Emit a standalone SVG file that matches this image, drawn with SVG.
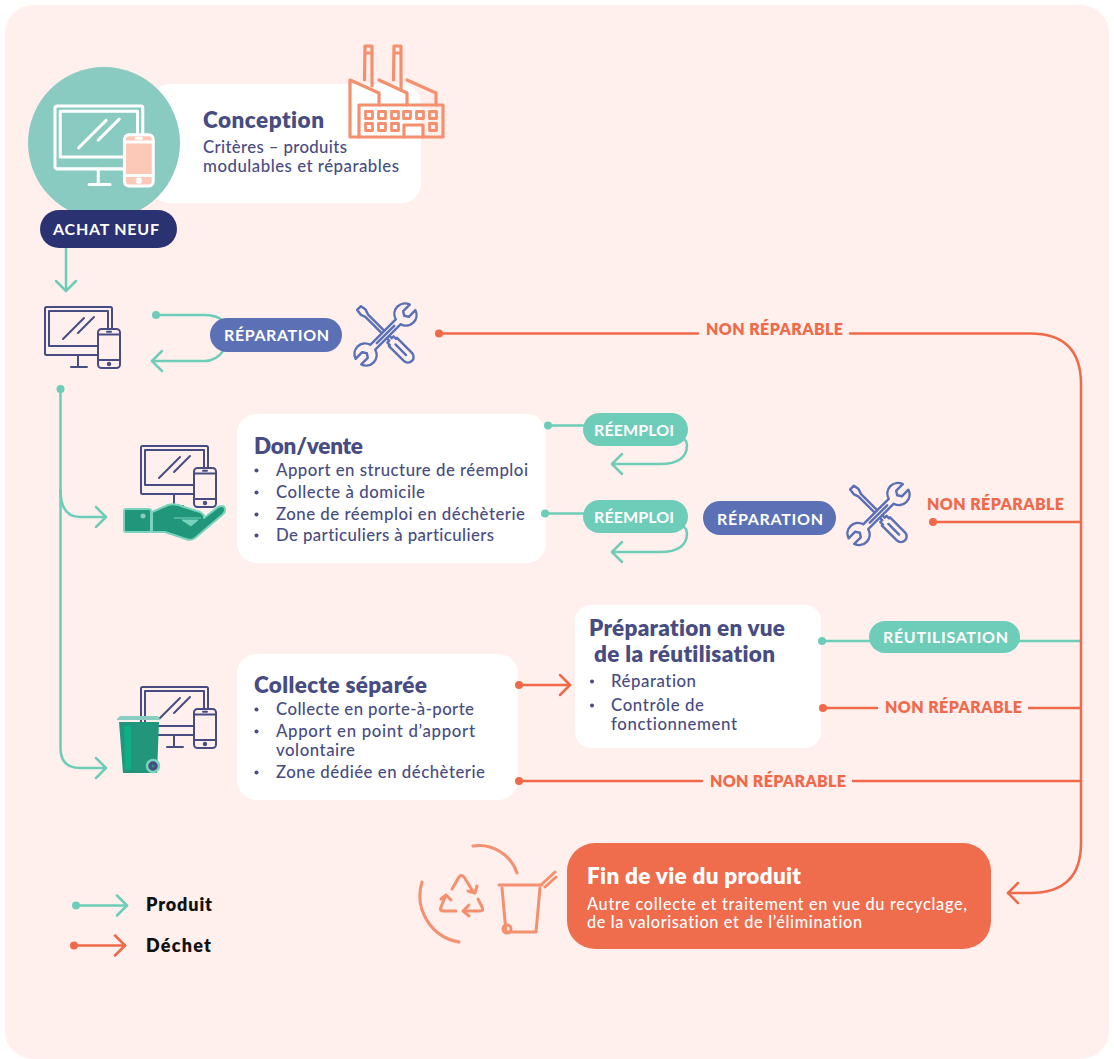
<svg xmlns="http://www.w3.org/2000/svg" width="1114" height="1059" viewBox="0 0 1114 1059">
<style>
text{font-family:"Lato","Liberation Sans",sans-serif;font-variant-ligatures:none}
.t{font-size:22.5px;font-weight:800;fill:#474c82}
.b{font-size:16.8px;font-weight:500;fill:#474c82}
.p{font-size:16px;font-weight:700;fill:#fff}
.n{font-size:16px;font-weight:800;fill:#f06a4a}
.g{fill:none;stroke:#6ecdb8;stroke-width:2.5;stroke-linecap:round;stroke-linejoin:round}
.o{fill:none;stroke:#f06a4a;stroke-width:2.5;stroke-linecap:round;stroke-linejoin:round}
.dg{fill:#6ecdb8}.do{fill:#f06a4a}.bul{fill:#474c82}
.ic{fill:none;stroke:#f5906f;stroke-width:3;stroke-linecap:round;stroke-linejoin:round}
.card{fill:#fff}
</style>
<defs>
<g id="device" stroke-linecap="round" stroke-linejoin="round">
<rect x="0" y="0" width="67" height="48" rx="1.5" fill="none"/>
<rect x="4" y="4" width="59" height="35" fill="none"/>
<path d="M33 48V60M26 60H42M18 32L39 11M33 26L49 10" fill="none"/>
<rect x="53" y="22" width="22" height="39" rx="3.5"/>
<path d="M53 27.500H75M53 53H75M62 24.700H66" fill="none"/>
<circle cx="64" cy="57" r="1.200"/>
</g>
<g id="tools" fill="#fff0ee" stroke="#5b70b5" stroke-width="2.800" stroke-linejoin="round" stroke-linecap="round">
<path transform="rotate(-45)" d="M-3-42.500L-4-36-2-30V8H-5V12H-6.500V36A6.500 6.500 0 0 0 6.500 36V12H5V8H2V-30L4-36 3-42.500ZM0 16V33"/>
<path transform="rotate(45)" d="M-4.500-43.500V-33L0-30 4.500-33V-43.500A12 12 0 0 1 4-20.500V20.500A12 12 0 0 1 4.500 43.500V33L0 30-4.500 33V43.500A12 12 0 0 1-4 20.500V-20.500A12 12 0 0 1-4.500-43.500ZM0-14V14"/>
</g>
<marker id="hg" viewBox="0 0 14 24" refX="12" refY="12" markerWidth="14" markerHeight="24" markerUnits="userSpaceOnUse" orient="auto"><path d="M2 2L12 12 2 22" fill="none" stroke="#6ecdb8" stroke-width="2.500" stroke-linecap="round" stroke-linejoin="round"/></marker>
<marker id="ho" viewBox="0 0 14 24" refX="12" refY="12" markerWidth="14" markerHeight="24" markerUnits="userSpaceOnUse" orient="auto"><path d="M2 2L12 12 2 22" fill="none" stroke="#f06a4a" stroke-width="2.500" stroke-linecap="round" stroke-linejoin="round"/></marker>
</defs>
<rect width="1114" height="1059" fill="#fff"/>
<rect x="5" y="5" width="1104" height="1054" rx="28" fill="#fff0ee"/>

<g id="conception">
<rect class="card" x="150" y="84" width="271" height="119" rx="20"/>
<circle cx="104" cy="143" r="76" fill="#89cbc0"/>
<use href="#device" transform="translate(55 106) scale(1.310)" fill="#fcc9b8" stroke="#fff" stroke-width="2.300"/>
<text class="t" x="203" y="128" textLength="121">Conception</text>
<text class="b" x="203" y="153" textLength="144">Critères – produits</text>
<text class="b" x="203" y="172" textLength="196">modulables et réparables</text>
</g>
<g id="don-vente">
<rect class="card" x="237" y="414" width="309" height="149" rx="20"/>
<text class="t" x="254" y="454" textLength="109">Don/vente</text>
<circle class="bul" cx="256.500" cy="470.500" r="2"/><text class="b" x="276" y="476" textLength="252">Apport en structure de réemploi</text>
<circle class="bul" cx="256.500" cy="492.500" r="2"/><text class="b" x="276" y="498" textLength="149">Collecte à domicile</text>
<circle class="bul" cx="256.500" cy="514.500" r="2"/><text class="b" x="276" y="520" textLength="249">Zone de réemploi en déchèterie</text>
<circle class="bul" cx="256.500" cy="535.500" r="2"/><text class="b" x="276" y="541" textLength="218">De particuliers à particuliers</text>
</g>
<g id="collecte-separee">
<rect class="card" x="237" y="654" width="281" height="146" rx="20"/>
<text class="t" x="254" y="693" textLength="173">Collecte séparée</text>
<circle class="bul" cx="256.500" cy="709.500" r="2"/><text class="b" x="276" y="715" textLength="198">Collecte en porte-à-porte</text>
<circle class="bul" cx="256.500" cy="731.500" r="2"/><text class="b" x="276" y="737" textLength="199">Apport en point d’apport</text>
<text class="b" x="276" y="756" textLength="79">volontaire</text>
<circle class="bul" cx="256.500" cy="772.500" r="2"/><text class="b" x="276" y="778" textLength="209">Zone dédiée en déchèterie</text>
</g>
<g id="preparation">
<rect class="card" x="575" y="605" width="246" height="143" rx="16"/>
<text class="t" x="589" y="636" textLength="196">Préparation en vue</text>
<text class="t" x="594" y="662" textLength="181">de la réutilisation</text>
<circle class="bul" cx="592" cy="681.500" r="2"/><text class="b" x="611" y="687" textLength="85">Réparation</text>
<circle class="bul" cx="592" cy="705.500" r="2"/><text class="b" x="611" y="711" textLength="93">Contrôle de</text>
<text class="b" x="611" y="730" textLength="126">fonctionnement</text>
</g>

<g id="connectors">
<path class="g" d="M66 248V291" marker-end="url(#hg)"/>
<circle class="dg" cx="156" cy="315" r="4"/>
<path class="g" d="M156 315H205Q218 315 224 322"/>
<path class="g" d="M224 350Q216 361 205 361H152" marker-end="url(#hg)"/>
<circle class="dg" cx="60.500" cy="389" r="4"/>
<path class="g" d="M60.500 389V748Q60.500 768 80 768H106" marker-end="url(#hg)"/>
<path class="g" d="M60.500 490Q60.500 517 80 517H106" marker-end="url(#hg)"/>
<circle class="dg" cx="548" cy="425.500" r="4"/><path class="g" d="M548 425.500H590"/>
<path class="g" d="M677 436Q687 438 687 445Q687 464 660 464H612" marker-end="url(#hg)"/>
<circle class="dg" cx="545" cy="513.500" r="4"/><path class="g" d="M545 513.500H590"/>
<path class="g" d="M677 524Q687 526 687 533Q687 552 660 552H612" marker-end="url(#hg)"/>
<circle class="dg" cx="822" cy="641" r="4"/><path class="g" d="M822 641H875M1015 641H1081"/>
<circle class="do" cx="439" cy="333.500" r="4"/>
<path class="o" d="M439 333.500H698M850 333.500H1030Q1081 333.500 1081 384V843Q1081 893 1030 893H1008" marker-end="url(#ho)"/>
<circle class="do" cx="933" cy="522" r="4"/><path class="o" d="M933 522H1081"/>
<circle class="do" cx="823" cy="708" r="4"/><path class="o" d="M823 708H877M1029 708H1081"/>
<circle class="do" cx="519" cy="685" r="4"/><path class="o" d="M519 685H570" marker-end="url(#ho)"/>
<circle class="do" cx="519" cy="781" r="4"/><path class="o" d="M519 781H702M853 781H1081"/>
</g>

<g id="usine" fill="none" stroke="#f5906f" stroke-width="3.200" stroke-linejoin="round" stroke-linecap="round">
<path d="M364.500 80L365 46H372V86M393.500 80L394 46H401V90M365 53H372M394 53H401"/>
<path d="M359 137H350V80L379 93V105M379 80L407 93V105M407 80L436 93V105"/>
<rect x="359" y="105" width="84" height="32"/>
<path d="M404 137V125H423V137"/>
<g stroke-width="2.800"><rect x="365.500" y="111.500" width="7" height="7"/><rect x="378.500" y="111.500" width="7" height="7"/><rect x="391.500" y="111.500" width="7" height="7"/><rect x="403.500" y="111.500" width="7" height="7"/><rect x="416.500" y="111.500" width="7" height="7"/><rect x="429.500" y="111.500" width="7" height="7"/><rect x="365.500" y="123.500" width="7" height="7"/><rect x="378.500" y="123.500" width="7" height="7"/><rect x="391.500" y="123.500" width="7" height="7"/><rect x="429.500" y="123.500" width="7" height="7"/></g>
</g>
<g id="achat-neuf"><rect x="40" y="210" width="137" height="38" rx="19" fill="#2a3272"/><text class="p" x="53" y="235" textLength="106">ACHAT NEUF</text></g>

<g id="appareil"><use href="#device" transform="translate(45 307)" fill="#fff0ee" stroke="#474c82" stroke-width="2"/></g>
<g id="reparation-1"><rect x="210" y="318" width="132" height="34" rx="17" fill="#5b70b5"/><text class="p" x="224" y="341" textLength="105">RÉPARATION</text></g>
<g id="outils-1"><use href="#tools" transform="translate(385.500 334.500) scale(.88)"/></g>
<g id="non-reparable-1"><text class="n" x="706" y="335" textLength="137">NON RÉPARABLE</text></g>

<g id="don-icone">
<use href="#device" transform="translate(141 446)" fill="#fff0ee" stroke="#474c82" stroke-width="2"/>
<path d="M152 512L168 505Q176 503 184 507L200 512Q205 515 204 518L218 507Q225 504 225 510Q225 513 222 515L195 538Q191 541 186 539L165 532H152Z" fill="#21967a" stroke="#79d3bd" stroke-width="2" stroke-linejoin="round"/>
<path d="M174 518H201M182 520H198L191 526Z" fill="#79d3bd" stroke="#79d3bd" stroke-width="1" stroke-linejoin="round"/>
<rect x="124" y="509" width="27" height="23" rx="2" fill="#21967a" stroke="#79d3bd" stroke-width="2"/>
<circle cx="143" cy="516" r="2.500" fill="#8bcdc0"/>
</g>
<g id="reemploi-1"><rect x="583" y="413" width="105" height="33" rx="16.500" fill="#6ecdb8"/><text class="p" x="594" y="436" textLength="80">RÉEMPLOI</text></g>
<g id="reemploi-2"><rect x="583" y="500" width="105" height="33" rx="16.500" fill="#6ecdb8"/><text class="p" x="594" y="523" textLength="80">RÉEMPLOI</text></g>
<g id="reparation-2"><rect x="703" y="501" width="133" height="34" rx="17" fill="#5b70b5"/><text class="p" x="717" y="525" textLength="106">RÉPARATION</text></g>
<g id="outils-2"><use href="#tools" transform="translate(878.500 514) scale(.88)"/></g>
<g id="non-reparable-2"><text class="n" x="927" y="510" textLength="137">NON RÉPARABLE</text></g>

<g id="collecte-icone">
<use href="#device" transform="translate(141 687)" fill="#fff0ee" stroke="#474c82" stroke-width="2"/>
<path d="M119 722H159L157 773H123Z" fill="#21967a"/>
<path d="M124 726H131V770H125Z" fill="#0fae85"/>
<path d="M117 719L120 716H158L160 719V720H117Z" fill="#8bcdc0"/>
<circle cx="153" cy="766" r="6" fill="#474c82" stroke="#79d3bd" stroke-width="2.500"/>
<circle cx="153" cy="766" r="1.500" fill="#21967a"/>
</g>
<g id="reutilisation"><rect x="869" y="621" width="151" height="32" rx="16" fill="#6ecdb8"/><text class="p" x="883" y="643" textLength="125">RÉUTILISATION</text></g>
<g id="non-reparable-3"><text class="n" x="885" y="713" textLength="137">NON RÉPARABLE</text></g>
<g id="non-reparable-4"><text class="n" x="710" y="787" textLength="136">NON RÉPARABLE</text></g>

<g id="recyclage-icone">
<path class="ic" d="M473 846A40 40 0 0 1 517 873M422 882A47 47 0 0 0 459 942"/>
<path class="ic" d="M452 889L459 877Q461 874 464 877L474 893M468 891L475 893 477 886"/>
<path class="ic" d="M478 899L482 907Q484 911 480 911H463M469 905L463 911 469 916"/>
<path class="ic" d="M446 895L441 907Q439 911 444 911H456M446 895L451 900M446 895L441 899"/>
<path class="ic" d="M499 885H542M502 888L506 932H536L540 888M542 884L555 872M545 887L556 877"/>
<circle class="ic" cx="507" cy="929" r="4"/>
</g>
<g id="fin-de-vie">
<rect x="567" y="843" width="424" height="106" rx="28" fill="#ef6c4d"/>
<text x="587" y="884" textLength="214" style="font-size:22.500px;font-weight:800;fill:#fff">Fin de vie du produit</text>
<text x="587" y="910" textLength="380" style="font-size:16.300px;font-weight:500;fill:#fff">Autre collecte et traitement en vue du recyclage,</text>
<text x="587" y="928" textLength="275" style="font-size:16.300px;font-weight:500;fill:#fff">de la valorisation et de l’élimination</text>
</g>
<g id="legende">
<circle class="dg" cx="76" cy="905.500" r="4"/><path class="g" d="M76 905.500H127" marker-end="url(#hg)"/>
<text x="146" y="911" textLength="66" style="font-size:18px;font-weight:800;fill:#111">Produit</text>
<circle class="do" cx="74" cy="945.500" r="4"/><path class="o" d="M74 945.500H125" marker-end="url(#ho)"/>
<text x="146" y="952" textLength="65" style="font-size:18px;font-weight:800;fill:#111">Déchet</text>
</g>
</svg>
